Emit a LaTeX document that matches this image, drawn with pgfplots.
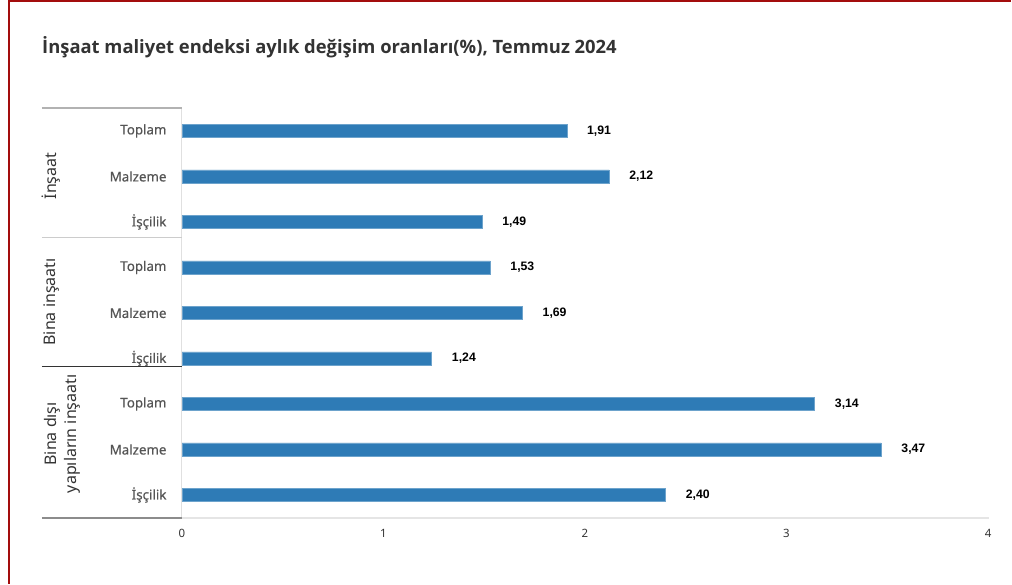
\documentclass[border=0pt]{standalone}
\usepackage{fontspec}
\setmainfont{Noto Sans}
\newfontfamily\valfont{Liberation Sans}
\newfontfamily\titlefont{Open Sans}
\newfontfamily\catfont{Noto Sans}[FakeBold=0.4]
\usepackage{pgfplots}
\pgfplotsset{compat=1.18}
\definecolor{barblue}{HTML}{2E7BB6}
\definecolor{borderred}{HTML}{A30D0D}
\definecolor{txtdark}{HTML}{333333}
\definecolor{txtgray}{HTML}{555555}
\begin{document}
\begin{tikzpicture}[x=0.75pt,y=-0.75pt]
% page bounds
\fill[white] (0,0) rectangle (1012,584);
\draw[borderred, line width=1.5pt] (9,584) -- (9,0.75) -- (1012,0.75);
% title
\node[anchor=base west, inner sep=0, text=txtdark, font=\titlefont\bfseries\fontsize{13.8}{16}\selectfont] at (42,53) {İnşaat maliyet endeksi aylık değişim oranları(\%), Temmuz 2024};
\begin{axis}[
  at={(136.5pt,-81pt)}, anchor=north west,
  scale only axis, width=605.25pt, height=307.5pt,
  xbar, bar width=9.75pt, bar shift=0pt,
  xmin=0, xmax=4, ymin=-0.5, ymax=8.5, y dir=reverse,
  axis line style={draw=none},
  xtick={0,1,2,3,4}, ytick={0,...,8},
  yticklabels={Toplam,Malzeme,İşçilik,Toplam,Malzeme,İşçilik,Toplam,Malzeme,İşçilik},
  major tick length=0pt,
  yticklabel style={font=\catfont\fontsize{10}{12}\selectfont, text=txtgray, anchor=east, xshift=-8pt},
  xticklabel style={font=\fontsize{8.6}{10}\selectfont, text=txtdark, yshift=-5pt},
  /pgf/number format/assume math mode=true,
  nodes near coords,
  every node near coord/.append style={font=\valfont\bfseries\fontsize{9.2}{10}\selectfont, text=black, anchor=west, inner sep=0pt, xshift=15pt},
  nodes near coords={\pgfmathprintnumber[fixed, fixed zerofill, precision=2, use comma]{\pgfplotspointmeta}},
  clip=false,
]
\addplot[fill=barblue, draw=barblue!70!white, line width=0.4pt] coordinates {
  (1.91,0) (2.12,1) (1.49,2) (1.53,3) (1.69,4) (1.24,5) (3.14,6) (3.47,7) (2.40,8)
};
\end{axis}
% axis lines
\draw[color=black!12, line width=0.75pt] (182,108) -- (182,518);
\draw[color=black!10, line width=1.5pt] (182,518) -- (990,518);
% group separators
\draw[color=black!30, line width=1.5pt] (42,108) -- (182,108);
\draw[color=black!20, line width=0.75pt] (42,237) -- (182,237);
\draw[color=black!80, line width=0.75pt] (42,367) -- (182,367);
\draw[color=black!45, line width=1.5pt] (42,518) -- (182,518);
% group labels
\node[rotate=90, text=txtdark, font=\fontsize{12}{15}\selectfont, inner sep=0] at (51,176) {İnşaat};
\node[rotate=90, text=txtdark, font=\fontsize{12}{15}\selectfont, inner sep=0] at (52,302) {Bina inşaatı};
\node[rotate=90, text=txtdark, font=\fontsize{12}{15}\selectfont, inner sep=0, align=center] at (62,434) {Bina dışı\\yapıların inşaatı};
\end{tikzpicture}
\end{document}
